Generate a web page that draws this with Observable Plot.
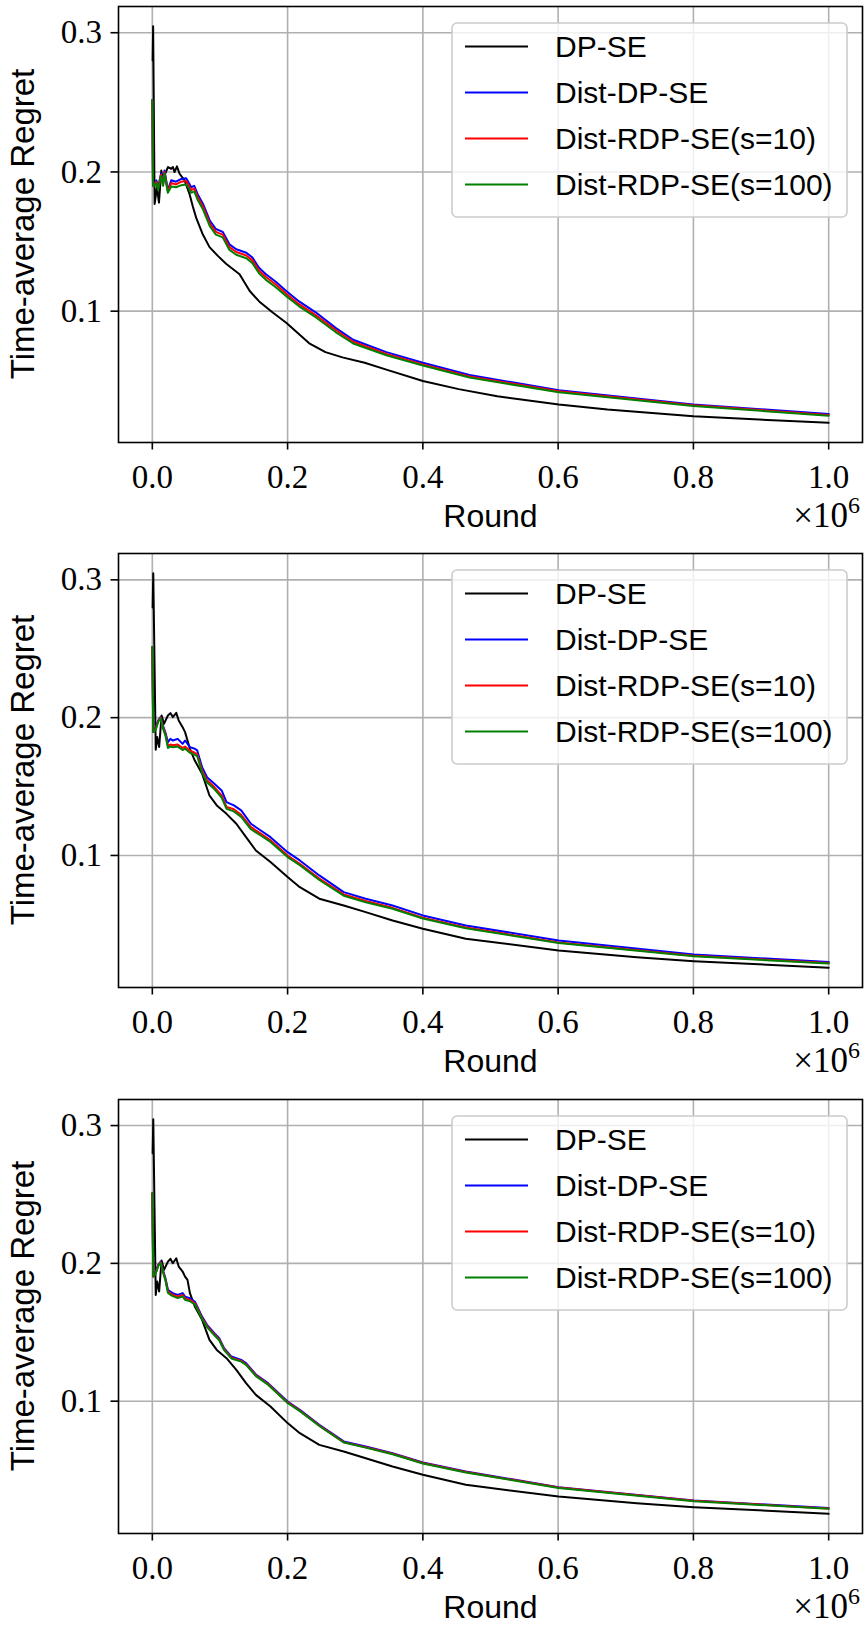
<!DOCTYPE html>
<html>
<head>
<meta charset="utf-8">
<script src="https://cdn.jsdelivr.net/npm/d3@7"></script>
<script src="https://cdn.jsdelivr.net/npm/@observablehq/plot@0.6"></script>
<style>
  body { margin: 0; background: white; }
  #chart { position: relative; width: 866px; }
  .panel { position: relative; width: 866px; }
</style>
</head>
<body>
<div id="chart"></div>
<script>
// ---------- series ----------
const seriesNames = ["DP-SE", "Dist-DP-SE", "Dist-RDP-SE(s=10)", "Dist-RDP-SE(s=100)"];
const seriesColors = ["#000000", "#0000ff", "#ff0000", "#008000"];

// ---------- tick values ----------
const xTicks = [0, 200000, 400000, 600000, 800000, 1000000];
const yTicks = [0.1, 0.2, 0.3];

// ---------- panel 1 (rounds in thousands) ----------
const p1RoundsDPSE = [0.5, 1.2, 3.4, 6.9, 9.8, 13.3, 15.7, 19.2, 23.1, 28, 30.5, 32.9, 36.4, 40.3, 47.7, 55.1, 60, 64.9, 74.7, 84.6, 96.9, 109, 129, 144, 158, 178, 198, 232, 256, 281, 314, 346, 400, 453, 510, 601, 673, 800, 918, 1000];
const p1DPSE = [0.28, 0.3046, 0.177, 0.189, 0.178, 0.201, 0.194, 0.199, 0.2035, 0.2023, 0.2035, 0.1999, 0.204, 0.1987, 0.194, 0.184, 0.175, 0.167, 0.155, 0.146, 0.1397, 0.134, 0.1265, 0.1145, 0.107, 0.099, 0.0917, 0.0769, 0.0706, 0.0668, 0.063, 0.058, 0.0498, 0.044, 0.0389, 0.033, 0.0293, 0.0245, 0.0217, 0.0199];
const p1RoundsDist = [0, 1, 3, 6, 8.5, 13, 16, 18, 23, 28, 35, 43, 50, 53, 57.5, 62, 67, 75, 85, 94, 104, 114, 124, 139, 148, 158, 168, 183, 198, 217, 242, 271, 297, 346, 400, 469, 601, 800, 1000];
const p1DistDPSE = [0.2516, 0.190, 0.192, 0.194, 0.189, 0.199, 0.192, 0.201, 0.187, 0.194, 0.193, 0.195, 0.1955, 0.193, 0.189, 0.190, 0.184, 0.177, 0.165, 0.159, 0.157, 0.148, 0.1445, 0.142, 0.1385, 0.131, 0.1265, 0.121, 0.1145, 0.107, 0.099, 0.088, 0.0795, 0.0706, 0.063, 0.0541, 0.0432, 0.033, 0.0262];
const p1DistRDP10 = [0.2516, 0.190, 0.191, 0.193, 0.188, 0.198, 0.191, 0.200, 0.186, 0.192, 0.191, 0.193, 0.1935, 0.191, 0.187, 0.188, 0.182, 0.175, 0.163, 0.157, 0.155, 0.146, 0.1425, 0.140, 0.1365, 0.129, 0.1245, 0.119, 0.1125, 0.105, 0.097, 0.0865, 0.078, 0.0693, 0.0618, 0.0531, 0.0424, 0.0324, 0.0255];
const p1DistRDP100 = [0.2516, 0.190, 0.190, 0.192, 0.187, 0.197, 0.190, 0.199, 0.185, 0.1895, 0.189, 0.1905, 0.191, 0.189, 0.185, 0.186, 0.180, 0.173, 0.161, 0.155, 0.153, 0.144, 0.1405, 0.138, 0.1345, 0.127, 0.1225, 0.117, 0.1108, 0.1035, 0.0955, 0.085, 0.0768, 0.0683, 0.061, 0.0523, 0.0418, 0.0319, 0.0249];

// ---------- panel 2 ----------
const p2RoundsDPSE = [0.5, 1.4, 5.05, 7.2, 10.1, 13.7, 17.3, 23.1, 26.7, 30.3, 35.4, 39, 44.8, 48.4, 52, 55.6, 62.8, 73.6, 84.5, 95.3, 109.7, 124.2, 138.6, 153.1, 174.7, 200, 218.1, 246.9, 283, 315.5, 355.2, 400, 463.5, 600.7, 716.2, 800.7, 1000];
const p2DPSE = [0.28, 0.3048, 0.1767, 0.1859, 0.1787, 0.2016, 0.1955, 0.2016, 0.2033, 0.2004, 0.2035, 0.1979, 0.1931, 0.1895, 0.1834, 0.1774, 0.1689, 0.1593, 0.1435, 0.1363, 0.1302, 0.123, 0.1133, 0.1036, 0.0952, 0.0843, 0.077, 0.0686, 0.0637, 0.0589, 0.0528, 0.0468, 0.0395, 0.0311, 0.0262, 0.0233, 0.0185];
const p2RoundsDist = [0, 1.4, 5, 8.7, 12.3, 15.9, 19.5, 23.1, 26.7, 30.3, 37.5, 44.8, 48.4, 55.6, 62.8, 66.4, 73.6, 80.9, 91.7, 102.5, 109.7, 120.6, 131.4, 145.8, 160.3, 174.7, 200, 218.1, 246.9, 283, 315.5, 355.2, 400, 463.5, 600.7, 800.7, 1000];
const p2DistDPSE = [0.2512, 0.1895, 0.193, 0.198, 0.2004, 0.194, 0.189, 0.1822, 0.1846, 0.1834, 0.1846, 0.181, 0.1834, 0.1786, 0.1774, 0.1762, 0.164, 0.1568, 0.152, 0.1472, 0.1387, 0.1363, 0.1327, 0.123, 0.1181, 0.1133, 0.1024, 0.0964, 0.0855, 0.0734, 0.0686, 0.0637, 0.0565, 0.0492, 0.0383, 0.0282, 0.0226];
const p2DistRDP10 = [0.2512, 0.1895, 0.192, 0.1975, 0.200, 0.193, 0.188, 0.1795, 0.1805, 0.180, 0.1805, 0.178, 0.179, 0.176, 0.1745, 0.1735, 0.1617, 0.1545, 0.1496, 0.1435, 0.1352, 0.1335, 0.1295, 0.1205, 0.1158, 0.111, 0.100, 0.094, 0.0832, 0.0717, 0.0669, 0.062, 0.0548, 0.0477, 0.0369, 0.0272, 0.0219];
const p2DistRDP100 = [0.2512, 0.1895, 0.191, 0.197, 0.1995, 0.192, 0.187, 0.178, 0.179, 0.1785, 0.179, 0.1765, 0.1775, 0.1745, 0.173, 0.172, 0.160, 0.153, 0.1482, 0.142, 0.1338, 0.132, 0.128, 0.119, 0.1145, 0.1098, 0.0988, 0.093, 0.0822, 0.0708, 0.0661, 0.0613, 0.0542, 0.0472, 0.0365, 0.0268, 0.0216];

// ---------- panel 3 ----------
const p3RoundsDPSE = [0.5, 1.4, 5.05, 7.2, 10.1, 13.7, 17.3, 23.1, 26.7, 30.3, 35.4, 39, 44.8, 48.4, 52, 55.6, 62.8, 73.6, 84.5, 95.3, 109.7, 124.2, 138.6, 153.1, 174.7, 200, 218.1, 246.9, 283, 315.5, 355.2, 400, 463.5, 600.7, 716.2, 800.7, 1000];
const p3DPSE = [0.28, 0.3046, 0.1771, 0.1868, 0.1796, 0.202, 0.1953, 0.2013, 0.2033, 0.2001, 0.2037, 0.1977, 0.1941, 0.1904, 0.188, 0.1784, 0.1687, 0.159, 0.1445, 0.1372, 0.1312, 0.1227, 0.1131, 0.1046, 0.0962, 0.0841, 0.0768, 0.0683, 0.0635, 0.0586, 0.0526, 0.0466, 0.0393, 0.0308, 0.026, 0.0231, 0.0183];
const p3RoundsDist = [0, 1.4, 5, 8.7, 12.3, 15.9, 19.5, 23.1, 26.7, 30.3, 37.5, 44.8, 48.4, 55.6, 62.8, 73.6, 80.9, 91.7, 98.9, 106.1, 116.9, 131.4, 138.6, 153.1, 171.1, 200, 218.1, 246.9, 283, 315.5, 355.2, 400, 463.5, 600.7, 800.7, 1000];
const p3DistDPSE = [0.2509, 0.1904, 0.194, 0.1989, 0.2013, 0.195, 0.189, 0.1808, 0.1796, 0.1784, 0.1771, 0.1784, 0.1759, 0.1747, 0.1723, 0.1614, 0.1554, 0.1493, 0.1457, 0.1385, 0.1324, 0.130, 0.1276, 0.1194, 0.1131, 0.0998, 0.0938, 0.0829, 0.0708, 0.0671, 0.0623, 0.0555, 0.049, 0.0376, 0.0279, 0.0224];
const p3DistRDP10 = [0.2509, 0.1904, 0.193, 0.1985, 0.2008, 0.194, 0.188, 0.1795, 0.1782, 0.1772, 0.1758, 0.177, 0.1745, 0.1735, 0.1712, 0.1604, 0.1545, 0.1485, 0.1448, 0.1377, 0.1316, 0.1292, 0.1268, 0.1187, 0.1124, 0.0991, 0.0932, 0.0823, 0.0703, 0.0666, 0.0618, 0.0551, 0.0486, 0.0373, 0.0277, 0.0222];
const p3DistRDP100 = [0.2509, 0.1904, 0.1925, 0.198, 0.2003, 0.1935, 0.1875, 0.1785, 0.1772, 0.1762, 0.1748, 0.176, 0.1735, 0.1725, 0.1703, 0.1596, 0.1538, 0.1478, 0.1442, 0.1371, 0.131, 0.1287, 0.1263, 0.1182, 0.112, 0.0987, 0.0928, 0.082, 0.070, 0.0663, 0.0615, 0.0548, 0.0483, 0.037, 0.0274, 0.0219];

// ---------- assemble tables ----------
function toRows(roundsK, values, series) {
  return roundsK.map((r, i) => ({round: r * 1000, regret: values[i], series}));
}
const panels = [
  {
    rows: [
      toRows(p1RoundsDPSE, p1DPSE, seriesNames[0]),
      toRows(p1RoundsDist, p1DistDPSE, seriesNames[1]),
      toRows(p1RoundsDist, p1DistRDP10, seriesNames[2]),
      toRows(p1RoundsDist, p1DistRDP100, seriesNames[3])
    ],
    height: 545, marginTop: 6, marginBottom: 103
  },
  {
    rows: [
      toRows(p2RoundsDPSE, p2DPSE, seriesNames[0]),
      toRows(p2RoundsDist, p2DistDPSE, seriesNames[1]),
      toRows(p2RoundsDist, p2DistRDP10, seriesNames[2]),
      toRows(p2RoundsDist, p2DistRDP100, seriesNames[3])
    ],
    height: 545, marginTop: 8, marginBottom: 103
  },
  {
    rows: [
      toRows(p3RoundsDPSE, p3DPSE, seriesNames[0]),
      toRows(p3RoundsDist, p3DistDPSE, seriesNames[1]),
      toRows(p3RoundsDist, p3DistRDP10, seriesNames[2]),
      toRows(p3RoundsDist, p3DistRDP100, seriesNames[3])
    ],
    height: 541, marginTop: 9, marginBottom: 98
  }
];

const serif = "'Liberation Serif', 'Times New Roman', serif";
const sans = "'Liberation Sans', Arial, sans-serif";
const gridStyle = {stroke: "#b0b0b0", strokeOpacity: 1, strokeWidth: 1.6};
const W = 866, marginLeft = 118, marginRight = 4;

const chart = document.getElementById("chart");

panels.forEach(p => {
  const all = p.rows.flat();
  const [lo, hi] = d3.extent(all, d => d.regret);
  const pad = (hi - lo) * 0.05;
  const frameBottom = p.height - p.marginBottom;

  const svg = Plot.plot({
    width: W,
    height: p.height,
    marginLeft, marginRight,
    marginTop: p.marginTop,
    marginBottom: p.marginBottom,
    x: {domain: [-50000, 1050000]},
    y: {domain: [lo - pad, hi + pad]},
    style: {fontFamily: serif, fontSize: "33px", color: "black", background: "white", overflow: "visible"},
    marks: [
      Plot.gridX(xTicks, gridStyle),
      Plot.gridY(yTicks, gridStyle),
      ...p.rows.map((rows, i) => Plot.line(rows, {x: "round", y: "regret", stroke: seriesColors[i], strokeWidth: 2, curve: "linear"})),
      Plot.frame({stroke: "black", strokeWidth: 1.6}),
      Plot.axisX(xTicks, {tickSize: 7.5, tickPadding: 15, strokeWidth: 1.6, label: null, fontSize: 33,
        tickFormat: d => (d / 1e6).toFixed(1)}),
      Plot.axisY(yTicks, {tickSize: 7.5, tickPadding: 9, strokeWidth: 1.6, label: null, fontSize: 33,
        tickFormat: d => d.toFixed(1)}),
      Plot.text(["Round"], {text: d => d, frameAnchor: "bottom", lineAnchor: "top", dy: 62,
        fontFamily: sans, fontSize: 32, fill: "black"})
    ]
  });

  // y-axis label (rotated), baseline ~x=34, centred on the frame
  const s = d3.select(svg);
  s.append("text")
    .attr("transform", `translate(34,${(p.marginTop + frameBottom) / 2}) rotate(-90)`)
    .attr("text-anchor", "middle")
    .attr("font-family", sans).attr("font-size", 33).attr("fill", "black")
    .text("Time-average Regret");

  // ×10^6 offset text at lower right
  const off = s.append("text")
    .attr("x", 860).attr("y", frameBottom + 85)
    .attr("text-anchor", "end")
    .attr("font-family", serif).attr("font-size", 35).attr("fill", "black");
  off.append("tspan").text("×10");
  off.append("tspan").attr("dy", -14).attr("font-size", 24).text("6");

  const panel = document.createElement("div");
  panel.className = "panel";
  panel.style.height = p.height + "px";
  panel.appendChild(svg);

  // legend (upper right, inside the axes)
  const legW = 395, legH = 194;
  const leg = d3.create("svg")
    .attr("width", legW + 4).attr("height", legH + 4)
    .style("position", "absolute")
    .style("left", (452 - 2) + "px")
    .style("top", (p.marginTop + 16.5 - 2) + "px")
    .style("overflow", "visible");
  leg.append("rect")
    .attr("x", 2).attr("y", 2).attr("width", legW).attr("height", legH)
    .attr("rx", 5).attr("ry", 5)
    .attr("fill", "white").attr("fill-opacity", 0.8)
    .attr("stroke", "#cccccc").attr("stroke-width", 1.6);
  seriesNames.forEach((name, i) => {
    const cy = 2 + 23.5 + 46 * i;
    leg.append("line")
      .attr("x1", 2 + 13).attr("x2", 2 + 76).attr("y1", cy).attr("y2", cy)
      .attr("stroke", seriesColors[i]).attr("stroke-width", 2);
    leg.append("text")
      .attr("x", 2 + 103).attr("y", cy + 10.8)
      .attr("font-family", sans).attr("font-size", 30).attr("fill", "black")
      .text(name);
  });
  panel.appendChild(leg.node());
  chart.appendChild(panel);
});
</script>
</body>
</html>
